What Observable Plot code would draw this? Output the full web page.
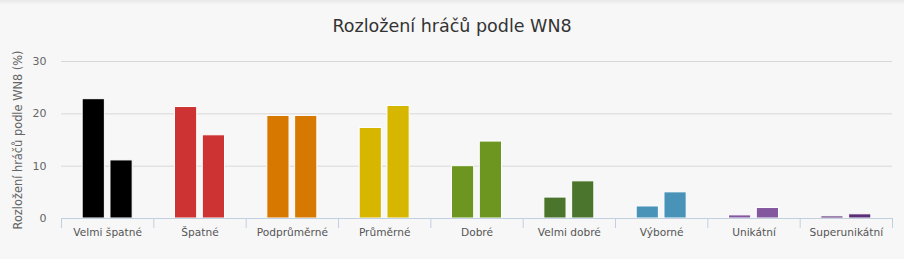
<!DOCTYPE html>
<html>
<head>
<meta charset="utf-8">
<script src="https://cdn.jsdelivr.net/npm/d3@7"></script>
<script src="https://cdn.jsdelivr.net/npm/@observablehq/plot@0.6"></script>
<style>
  html, body { margin: 0; padding: 0; }
  body {
    width: 904px; height: 259px; overflow: hidden;
    background: linear-gradient(#e9e9e9 0px, #f7f7f7 5px, #f7f7f7 100%);
    font-family: "DejaVu Sans", sans-serif;
  }
  #title {
    height: 40px; line-height: 52px; text-align: center;
    font-size: 17.5px; color: #333; 
  }
  #chart svg { display: block; background: transparent; overflow: visible; }
</style>
</head>
<body>
<div id="title">Rozložení hráčů podle WN8</div>
<div id="chart"></div>
<script>
const categories = ["Velmi špatné", "Špatné", "Podprůměrné", "Průměrné", "Dobré", "Velmi dobré", "Výborné", "Unikátní", "Superunikátní"];
const seriesA = [22.8, 21.3, 19.6, 17.3, 10.0, 4.0, 2.3, 0.6, 0.4];
const seriesB = [11.1, 15.9, 19.6, 21.5, 14.7, 7.1, 5.0, 2.0, 0.8];
const colors = ["#000000", "#cd3333", "#d77900", "#d7b600", "#6d9621", "#4b752c", "#4a93b8", "#83589e", "#5b2f78"];
const yTicks = [0, 10, 20, 30];
const yLabel = "Rozložení hráčů podle WN8 (%)";

const dataA = categories.map((c, i) => ({cat: c, value: seriesA[i], color: colors[i]}));
const dataB = categories.map((c, i) => ({cat: c, value: seriesB[i], color: colors[i]}));

const W = 904, H = 219;
const mL = 61, mR = 12, mT = 21, mB = 41;
const bw = (W - mL - mR) / categories.length;
const barW = 22.2;
const half = barW / 2 + 2.8;
const inset = (bw - barW) / 2;

const chart = Plot.plot({
  width: W, height: H,
  marginLeft: mL, marginRight: mR, marginTop: mT, marginBottom: mB,
  style: {background: "transparent", fontFamily: "DejaVu Sans, sans-serif", overflow: "visible"},
  x: {domain: categories, padding: 0, round: false, axis: null},
  y: {domain: [0, 30], axis: null},
  color: {type: "identity"},
  marks: [
    Plot.ruleY(yTicks.filter(t => t > 0), {stroke: "#d8d8d8", strokeWidth: 1}),
    Plot.axisY(yTicks, {tickSize: 0, tickPadding: 15, fontSize: 11, fill: "#666", label: null}),
    Plot.barY(dataA, {x: "cat", y: "value", fill: "color", stroke: "white", strokeWidth: 1, insetLeft: inset, insetRight: inset, dx: -half}),
    Plot.barY(dataB, {x: "cat", y: "value", fill: "color", stroke: "white", strokeWidth: 1, insetLeft: inset, insetRight: inset, dx: half}),
    Plot.ruleY([0], {stroke: "#c0d0e0", strokeWidth: 1}),
    Plot.axisX(categories, {tickSize: 10, tickPadding: 0, stroke: "#c0d0e0", tickFormat: () => "", dx: -bw / 2, label: null}),
    Plot.axisX([categories[categories.length - 1]], {tickSize: 10, tickPadding: 0, stroke: "#c0d0e0", tickFormat: () => "", dx: bw / 2, label: null}),
    Plot.axisX(categories, {tickSize: 0, tickPadding: 10, fontSize: 10.6, fill: "#555", label: null}),
    Plot.text([yLabel], {frameAnchor: "left", textAnchor: "middle", rotate: -90, dx: -43, fontSize: 11.4, fill: "#666"})
  ]
});
document.getElementById("chart").appendChild(chart);
</script>
</body>
</html>
